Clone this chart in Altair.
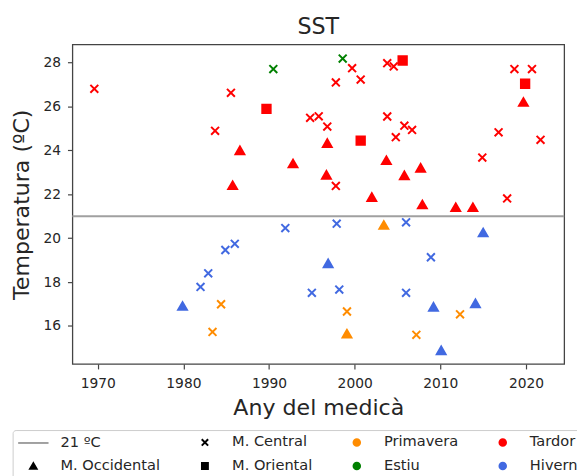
import altair as alt
import pandas as pd

# ---------------- data ----------------
# Tardor (autumn)
tardor_central_year = [1969.6, 1985.55, 1983.7, 1994.8, 1995.8, 1996.8, 1999.7, 1997.8, 2000.7,
                       2003.8, 2004.56, 2018.65, 2020.7, 2003.8, 2005.8, 2006.7, 2004.8, 2016.8,
                       2021.7, 2014.9, 1997.8, 2017.8]
tardor_central_temp = [26.8, 26.62, 24.89, 25.48, 25.55, 25.08, 27.74, 27.09, 27.22,
                       27.97, 27.82, 27.7, 27.7, 25.54, 25.12, 24.93, 24.6, 24.82,
                       24.48, 23.67, 22.38, 21.81]
tardor_occid_year = [1986.6, 1992.8, 1985.75, 2019.7, 1996.8, 2003.7, 2007.7, 2005.8, 1996.7,
                     2002.0, 2007.9, 2011.8, 2013.8]
tardor_occid_temp = [24.0, 23.4, 22.41, 26.2, 24.33, 23.55, 23.2, 22.86, 22.88,
                     21.87, 21.53, 21.41, 21.41]
tardor_orient_year = [1989.7, 2005.6, 2019.9, 2000.7]
tardor_orient_temp = [25.89, 28.09, 27.03, 24.44]
# Estiu (summer)
estiu_central_year = [1990.5, 1998.6]
estiu_central_temp = [27.7, 28.18]
# Hivern (winter)
hivern_central_year = [1991.9, 1986.0, 1984.9, 1982.9, 1982.0, 1995.0, 1997.9, 2006.0, 2008.9,
                       1998.2, 2006.0]
hivern_central_temp = [20.46, 19.74, 19.46, 18.4, 17.78, 17.51, 20.66, 20.72, 19.13,
                       17.66, 17.51]
hivern_occid_year = [1979.9, 2015.0, 1996.9, 2009.2, 2014.1, 2010.1]
hivern_occid_temp = [16.91, 20.26, 18.85, 16.87, 17.03, 14.89]
# Primavera (spring)
prim_central_year = [1984.4, 1983.4, 1999.1, 2012.3, 2007.2]
prim_central_temp = [16.99, 15.73, 16.66, 16.53, 15.6]
prim_occid_year = [2003.4, 1999.1]
prim_occid_temp = [20.6, 15.65]

threshold = 21

mars = ["M. Central", "M. Occidental", "M. Oriental"]
seasons = ["Primavera", "Estiu", "Tardor", "Hivern"]
season_colors = ["#ff8c00", "#008000", "#ff0000", "#4169e1"]
X_PATH = "M-1,-1L1,1M-1,1L1,-1"
LINE_PATH = "M-2.2,0L2.2,0"
mar_shapes = [X_PATH, "triangle-up", "square"]
mar_sizes = [64, 80, 72]

# legend entries, in the column-by-column order of the reference
legend_labels = ["21 \u00baC", "M. Occidental", "M. Central", "M. Oriental",
                 "Primavera", "Estiu", "Tardor", "Hivern"]
legend_colors = ["#a0a0a0", "#000000", "#000000", "#000000",
                 "#ff8c00", "#008000", "#ff0000", "#4169e1"]
legend_shapes = [LINE_PATH, "triangle-up", X_PATH, "square",
                 "circle", "circle", "circle", "circle"]
legend_sizes = [196, 44, 42, 36, 44, 44, 44, 44]

groups = [
    ("Tardor", "M. Central", tardor_central_year, tardor_central_temp),
    ("Tardor", "M. Occidental", tardor_occid_year, tardor_occid_temp),
    ("Tardor", "M. Oriental", tardor_orient_year, tardor_orient_temp),
    ("Estiu", "M. Central", estiu_central_year, estiu_central_temp),
    ("Hivern", "M. Central", hivern_central_year, hivern_central_temp),
    ("Hivern", "M. Occidental", hivern_occid_year, hivern_occid_temp),
    ("Primavera", "M. Central", prim_central_year, prim_central_temp),
    ("Primavera", "M. Occidental", prim_occid_year, prim_occid_temp),
]
rows = []
for season, mar, ys, ts in groups:
    for y, t in zip(ys, ts):
        rows.append({"year": y, "temp": t, "season": season, "mar": mar})
df = pd.DataFrame(rows)
df_leg = pd.DataFrame({"leg": legend_labels})
df_thr = pd.DataFrame({"t": [threshold]})

FONT = "DejaVu Sans"
TXT = "#262626"

xscale = alt.Scale(domain=[1967.04, 2024.46], nice=False, zero=False)
yscale = alt.Scale(domain=[14.27, 28.82], nice=False, zero=False)

points = alt.Chart(df).mark_point(opacity=1, strokeWidth=2).encode(
    x=alt.X("year:Q", scale=xscale,
            axis=alt.Axis(title="Any del medic\u00e0", values=[1970, 1980, 1990, 2000, 2010, 2020],
                          format="d", grid=False, labelPadding=8, titlePadding=6)),
    y=alt.Y("temp:Q", scale=yscale,
            axis=alt.Axis(title="Temperatura (\u00baC)", values=[16, 18, 20, 22, 24, 26, 28],
                          grid=False, labelPadding=7, titlePadding=10)),
    fill=alt.Fill("season:N", scale=alt.Scale(domain=seasons, range=season_colors), legend=None),
    stroke=alt.Stroke("season:N", scale=alt.Scale(domain=seasons, range=season_colors), legend=None),
    shape=alt.Shape("mar:N", scale=alt.Scale(domain=mars, range=mar_shapes), legend=None),
    size=alt.Size("mar:N", scale=alt.Scale(type="ordinal", domain=mars, range=mar_sizes), legend=None),
)

rule = alt.Chart(df_thr).mark_rule(color="#a0a0a0", strokeWidth=2).encode(
    y=alt.Y("t:Q", scale=yscale)
)

leg = alt.Legend(
    title=None, orient="none", legendX=-60.6, legendY=391, columns=4,
    labelFontSize=14.8, labelFont=FONT, labelColor=TXT, labelOffset=19.5,
    symbolOffset=8, columnPadding=29, rowPadding=8, padding=5,
    strokeColor="#cccccc", cornerRadius=3, fillColor="white",
    symbolOpacity=1, symbolStrokeWidth=2,
)
legend_layer = alt.Chart(df_leg).mark_point(opacity=0, filled=True).encode(
    fill=alt.Fill("leg:N", scale=alt.Scale(domain=legend_labels, range=legend_colors), legend=leg),
    stroke=alt.Stroke("leg:N", scale=alt.Scale(domain=legend_labels, range=legend_colors), legend=leg),
    shape=alt.Shape("leg:N", scale=alt.Scale(domain=legend_labels, range=legend_shapes), legend=leg),
    size=alt.Size("leg:N", scale=alt.Scale(type="ordinal", domain=legend_labels, range=legend_sizes),
                  legend=leg),
)

chart = alt.layer(rule, points, legend_layer).resolve_scale(
    fill="independent", stroke="independent", shape="independent", size="independent"
).properties(
    width=498.7, height=324,
    title=alt.TitleParams("SST", fontSize=22.5, font=FONT, fontWeight="normal", color=TXT,
                          anchor="middle", offset=6),
    autosize=alt.AutoSizeParams(type="none"),
    padding={"left": 65.3, "top": 33.7, "right": 13, "bottom": 110.3},
).configure_view(
    stroke="#444444", strokeWidth=1.3
).configure_axis(
    domain=False, labelFont=FONT, labelFontSize=14, labelColor=TXT,
    titleFont=FONT, titleFontSize=22.4, titleFontWeight="normal", titleColor=TXT,
    tickColor="#444444", tickSize=5, tickWidth=1.2,
)

chart.save("out.html", embed_options={"renderer": "svg", "actions": False})
